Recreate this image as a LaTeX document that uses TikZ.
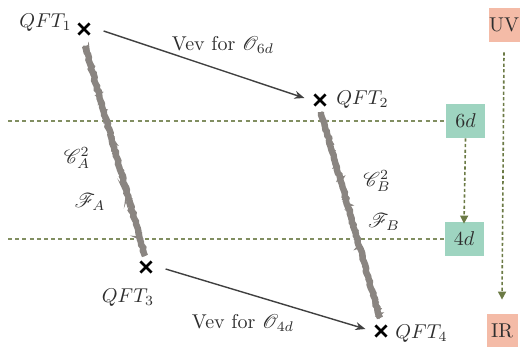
\documentclass[tikz,border=0pt]{standalone}
\usepackage{mathrsfs}
\usetikzlibrary{shapes.misc,arrows.meta,decorations.pathmorphing}
\definecolor{olivec}{HTML}{6B7A45}
\definecolor{tealbox}{HTML}{9ED4C0}
\definecolor{salmon}{HTML}{F4BBA7}
\definecolor{pencilc}{HTML}{8A8581}
\definecolor{arrc}{HTML}{404040}
\definecolor{txt}{HTML}{2E2E2E}
\tikzset{
  xmark/.style={cross out,draw=black,line width=1.4pt,minimum size=4.2pt,inner sep=0pt},
  lbl/.style={text=txt,font=\fontsize{10}{12}\selectfont,inner sep=1pt},
  vev/.style={draw=arrc,line width=0.7pt,-{Stealth[length=5pt,width=4pt]}},
  pencil/.style={draw=pencilc,line width=3.2pt,decorate,decoration={random steps,segment length=1.5pt,amplitude=0.4pt}},
  pencilthin/.style={draw=pencilc,line width=1.4pt,decorate,decoration={random steps,segment length=1pt,amplitude=1.1pt}},
  hdash/.style={draw=olivec!85,line width=0.65pt,dash pattern=on 2pt off 1.6pt},
  vdot/.style={draw=olivec,line width=0.8pt,dash pattern=on 1.6pt off 1.2pt,-{Triangle[length=4pt,width=4pt]}},
  dimbox/.style={fill=tealbox,text=txt,font=\fontsize{10}{12}\selectfont,minimum width=19.5pt,minimum height=17pt,inner sep=0pt},
  scalebox/.style={fill=salmon,text=txt,font=\fontsize{10}{12}\selectfont,minimum width=15.5pt,minimum height=17pt,inner sep=0pt}
}
\begin{document}
\begin{tikzpicture}[x=0.5pt,y=-0.5pt]
\useasboundingbox (0,0) rectangle (520,347);
% dimension boxes and dashed levels
\node[dimbox] (d6) at (465.5,121) {$6d$};
\node[dimbox] (d4) at (464,239) {$4d$};
\coordinate (l6s) at (8,121);
\coordinate (l4s) at (8,239);
\draw[hdash] (l6s) -- (d6.west);
\draw[hdash] (l4s) -- (d4.west);
\draw[vdot] (d6.south) -- ([yshift=-1pt]d4.north);
% UV / IR
\node[scalebox] (uv) at (504,25) {UV};
\node[scalebox] (ir) at (502,331) {IR};
\draw[vdot] ([yshift=-5pt]uv.south) -- ([yshift=7pt]ir.north);
% QFT points
\node[xmark] (q1) at (84,29) {};
\node[xmark] (q2) at (320,100) {};
\node[xmark] (q3) at (146,267) {};
\node[xmark] (q4) at (381,331) {};
\node[lbl,anchor=east] (t1) at (74,23) {$QFT_1$};
\node[lbl,anchor=west] (t2) at (334,100) {$QFT_2$};
\node[lbl] (t3) at (128,298) {$QFT_3$};
\node[lbl,anchor=west] (t4) at (393,334) {$QFT_4$};
% pencil lines
\coordinate (a1) at (85,46);
\coordinate (a2) at (145,256);
\coordinate (b1) at (321,112);
\coordinate (b2) at (380,318);
\draw[pencil] (a1) -- (a2);
\draw[pencilthin] (a1) -- (a2);
\draw[pencil] (b1) -- (b2);
\draw[pencilthin] (b1) -- (b2);
% vev arrows
\draw[vev] ([xshift=7pt,yshift=-1pt]q1.east) -- ([xshift=-5pt,yshift=1pt]q2.west);
\draw[vev] ([xshift=7pt,yshift=-1pt]q3.east) -- ([xshift=-5pt,yshift=1pt]q4.west);
\node[lbl] (v6) at (223,45) {Vev for $\mathscr{O}_{6d}$};
\node[lbl] (v4) at (243,323) {Vev for $\mathscr{O}_{4d}$};
% labels
\node[lbl] (ca) at (77,158) {$\mathscr{C}_A^2$};
\node[lbl] (fa) at (90,202) {$\mathscr{F}_A$};
\node[lbl] (cb) at (377,181) {$\mathscr{C}_B^2$};
\node[lbl] (fb) at (384,222) {$\mathscr{F}_B$};
\end{tikzpicture}
\end{document}
